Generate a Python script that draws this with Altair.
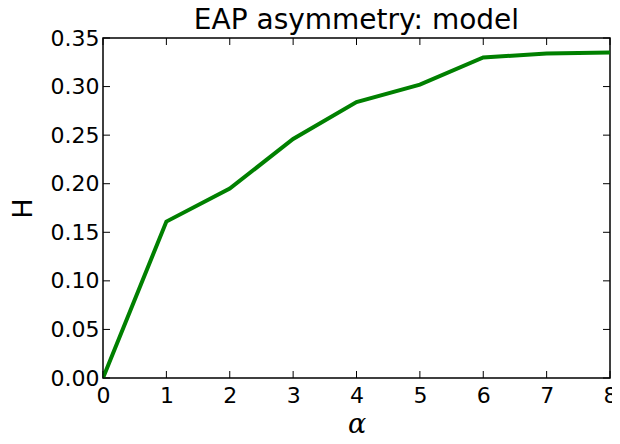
import altair as alt
import pandas as pd

alpha = [0, 1, 2, 3, 4, 5, 6, 7, 8]
H = [0.0, 0.161, 0.195, 0.246, 0.284, 0.302, 0.330, 0.334, 0.335]
x_ticks = [0, 1, 2, 3, 4, 5, 6, 7, 8]
y_ticks = [0.0, 0.05, 0.10, 0.15, 0.20, 0.25, 0.30, 0.35]

W, Hh = 507, 340
df = pd.DataFrame({"alpha": alpha, "H": H})
xt = pd.DataFrame({"t": x_ticks})
yt = pd.DataFrame({"t": y_ticks})

xs = alt.Scale(domain=[0, 8], nice=False, zero=False)
ys = alt.Scale(domain=[0, 0.35], nice=False, zero=False)

line = alt.Chart(df).mark_line(color="#008000", strokeWidth=4, clip=True).encode(
    x=alt.X("alpha:Q", scale=xs,
            axis=alt.Axis(values=x_ticks, format="d", title="α", titleFont="DejaVu Serif",
                          titleFontStyle="italic", titleFontWeight="normal", titleFontSize=27,
                          titlePadding=5, labelFontSize=22, labelPadding=7, tickSize=0,
                          labelFont="DejaVu Sans", labelColor="black", titleColor="black",
                          domain=False, grid=False, labelFlush=False)),
    y=alt.Y("H:Q", scale=ys,
            axis=alt.Axis(values=y_ticks, format=".2f", title="H", titleFontSize=27,
                          titleFont="DejaVu Sans", titleFontWeight="normal", titlePadding=13,
                          labelFontSize=22, labelPadding=4, tickSize=0, labelFont="DejaVu Sans",
                          labelColor="black", titleColor="black", domain=False, grid=False,
                          labelFlush=False)),
)

tick_len = 7
xb = alt.Chart(xt).mark_rule(color="black", strokeWidth=1).encode(
    x=alt.X("t:Q", scale=xs), y=alt.value(Hh), y2=alt.value(Hh - tick_len))
xtop = alt.Chart(xt).mark_rule(color="black", strokeWidth=1).encode(
    x=alt.X("t:Q", scale=xs), y=alt.value(0), y2=alt.value(tick_len))
yl = alt.Chart(yt).mark_rule(color="black", strokeWidth=1).encode(
    y=alt.Y("t:Q", scale=ys), x=alt.value(0), x2=alt.value(tick_len))
yr = alt.Chart(yt).mark_rule(color="black", strokeWidth=1).encode(
    y=alt.Y("t:Q", scale=ys), x=alt.value(W), x2=alt.value(W - tick_len))

chart = alt.layer(line, xb, xtop, yl, yr).properties(
    width=W, height=Hh,
    title=alt.TitleParams("EAP asymmetry: model", fontSize=28, font="DejaVu Sans",
                          fontWeight="normal", color="black", offset=-8),
    autosize=alt.AutoSizeParams(type="none"),
    padding={"left": 95, "top": 30, "right": 2, "bottom": 60},
).configure_view(stroke="black", strokeWidth=1.5)

chart.save("out.html", embed_options={"renderer": "svg", "actions": False})
